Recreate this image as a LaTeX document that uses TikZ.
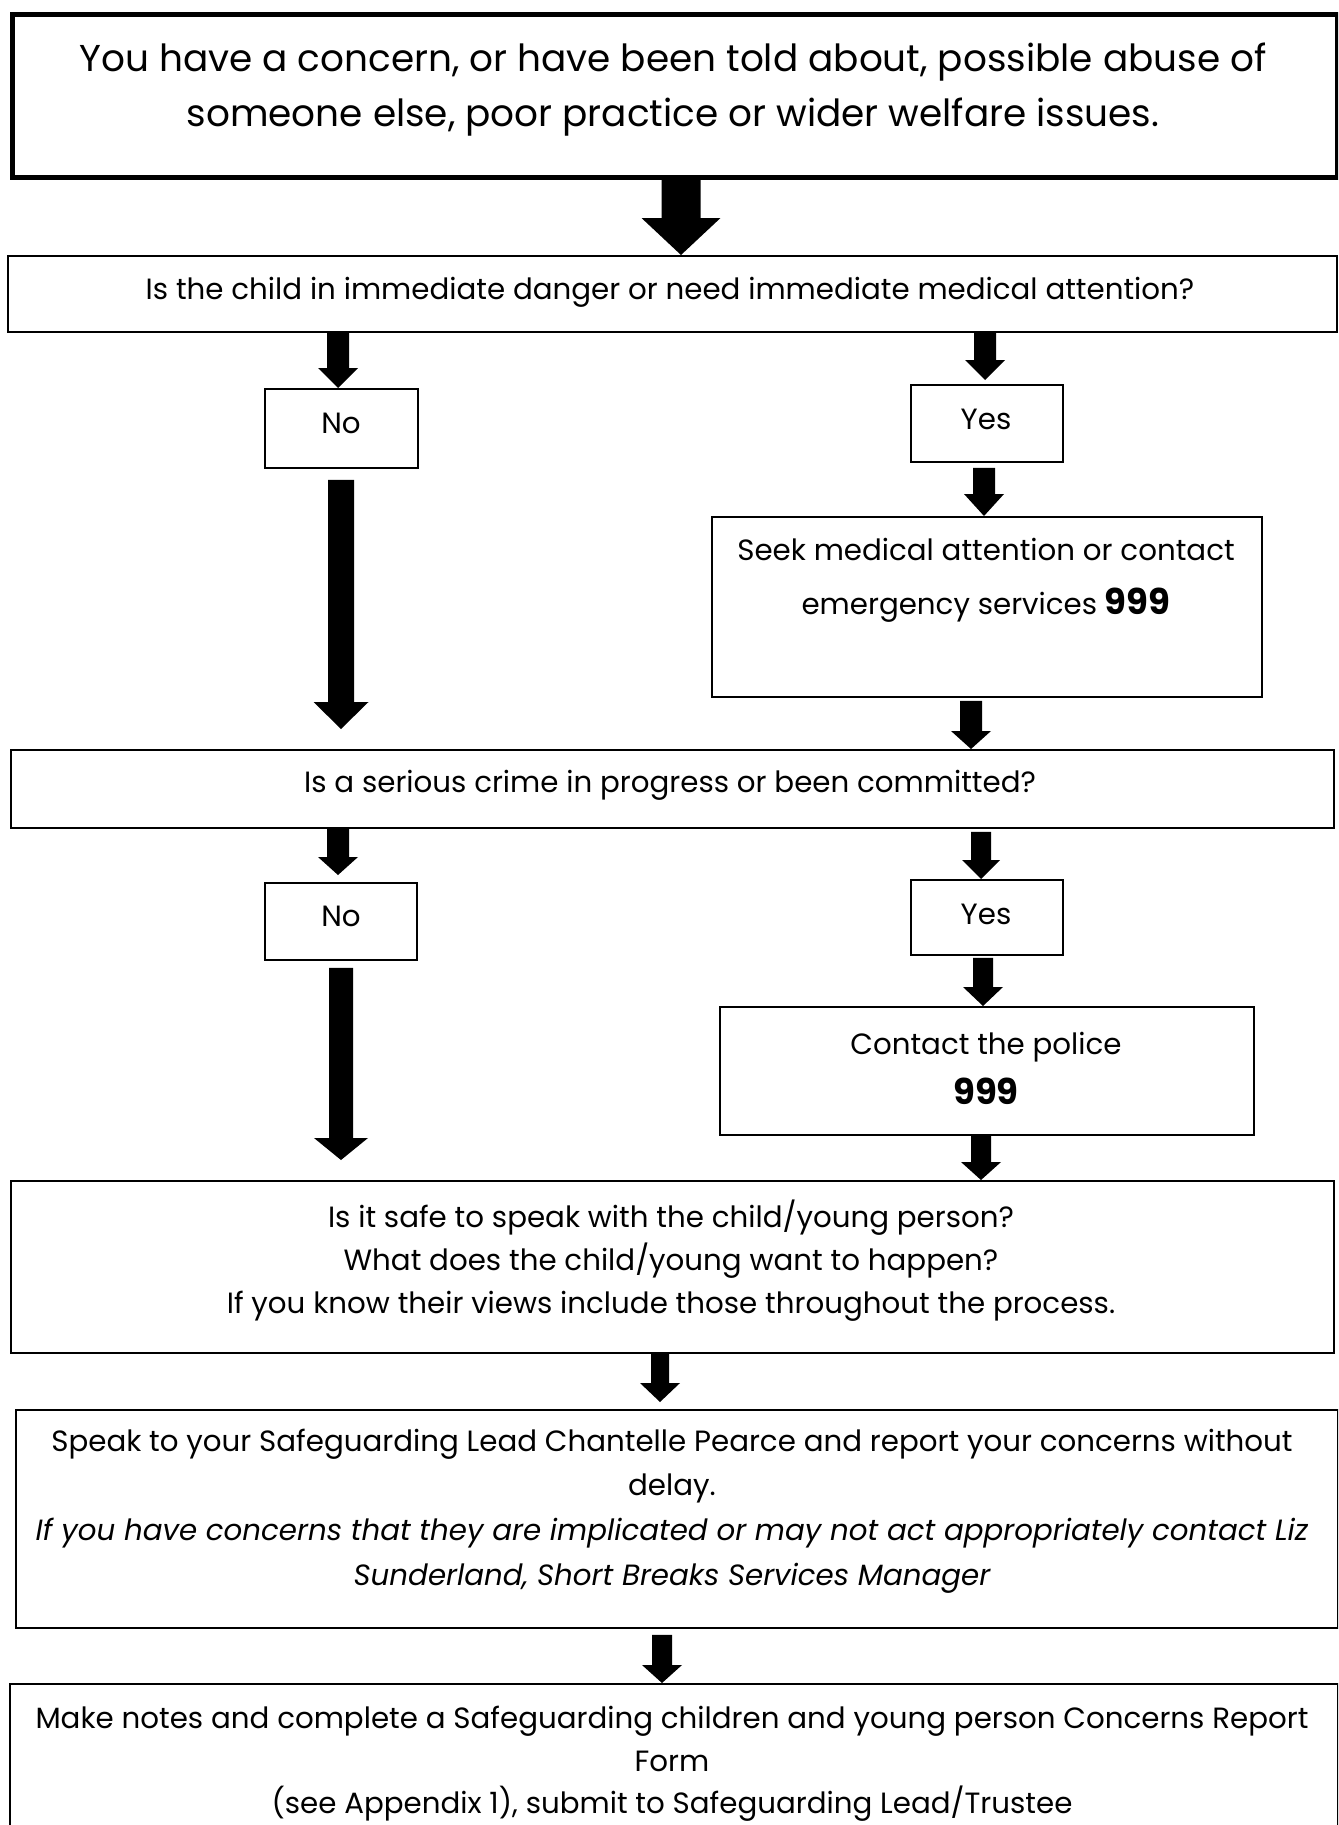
\documentclass[tikz,border=0pt]{standalone}
\usepackage{fontspec}
\setmainfont{Poppins}
\usetikzlibrary{calc}
\newcommand\blockarrow[5]{% #1 start, #2 tip, #3 half shaft, #4 half head, #5 head length
  \fill let \p1=#1, \p2=#2 in
    (\x1-#3,\y1) -- (\x1+#3,\y1) -- (\x1+#3,\y2+#5) -- (\x1+#4,\y2+#5) --
    (\x1,\y2) -- (\x1-#4,\y2+#5) -- (\x1-#3,\y2+#5) -- cycle;}
\newcommand\nnn{{\fontsize{35.5}{35.5}\selectfont\bfseries 999}}
\begin{document}
\begin{tikzpicture}[x=1pt,y=-1pt,
  box/.style={draw, line width=1.8pt, rectangle, inner sep=0pt, anchor=north west},
  bigbox/.style={draw, line width=5pt, rectangle, inner sep=0pt, anchor=north west},
  txt/.style={align=center, inner sep=0pt, font=\fontsize{29.3}{42}\selectfont},
]
\clip (0,0) rectangle (1338,1825);
\fill[white] (0,0) rectangle (1338,1825);

% boxes
\node[bigbox, minimum width=1325pt, minimum height=163pt] (top) at (10,12) {};
\node[box, minimum width=1329pt, minimum height=76pt] (q1) at (7,255) {};
\node[box, minimum width=153pt, minimum height=79pt] (no1) at (264,388) {};
\node[box, minimum width=152pt, minimum height=77pt] (yes1) at (910,384) {};
\node[box, minimum width=550pt, minimum height=180pt] (seek) at (711,516) {};
\node[box, minimum width=1323pt, minimum height=78pt] (crime) at (10,749) {};
\node[box, minimum width=152pt, minimum height=77pt] (no2) at (264,882) {};
\node[box, minimum width=152pt, minimum height=75pt] (yes2) at (910,879) {};
\node[box, minimum width=534pt, minimum height=128pt] (police) at (719,1006) {};
\node[box, minimum width=1323pt, minimum height=172pt] (safe) at (10,1180) {};
\node[box, minimum width=1322pt, minimum height=218pt] (speak) at (15,1409) {};
\node[box, minimum width=1328pt, minimum height=300pt] (make) at (9,1683) {};

% texts
\node[txt, font=\fontsize{37.4}{55}\selectfont] (topt) at (673,90)
  {You have a concern, or have been told about, possible abuse of\\
   someone else, poor practice or wider welfare issues.};
\node[txt] (q1t) at (670,292)
  {Is the child in immediate danger or need immediate medical attention?};
\node[txt] (no1t) at (341,423) {No};
\node[txt] (yes1t) at (986,419) {Yes};
\node[txt, font=\fontsize{29.3}{54}\selectfont] (seekt) at (986,580)
  {Seek medical attention or contact\\
   emergency services \nnn};
\node[txt] (crimet) at (670,785)
  {Is a serious crime in progress or been committed?};
\node[txt] (no2t) at (341,916) {No};
\node[txt] (yes2t) at (986,914) {Yes};
\node[txt, font=\fontsize{29.3}{50}\selectfont] (policet) at (986,1068)
  {Contact the police\\ \nnn};
\node[txt, font=\fontsize{29.3}{43}\selectfont] (safet) at (671,1261)
  {Is it safe to speak with the child/young person?\\
   What does the child/young want to happen?\\
   If you know their views include those throughout the process.};
\node[txt, font=\fontsize{29.3}{44.7}\selectfont] (speakt) at (672,1511)
  {Speak to your Safeguarding Lead Chantelle Pearce and report your concerns without\\
   delay.\\
   \itshape If you have concerns that they are implicated or may not act appropriately contact Liz\\
   \itshape Sunderland, Short Breaks Services Manager};
\node[txt, font=\fontsize{29.3}{42.5}\selectfont] (maket) at (672,1764)
  {Make notes and complete a Safeguarding children and young person Concerns Report\\
   Form\\
   (see Appendix 1), submit to Safeguarding Lead/Trustee};

% arrows
\blockarrow{([xshift=6pt]top.south)}{([xshift=6pt]top.south |- q1.north)}{19.5pt}{39.5pt}{37pt}
\blockarrow{(q1.south -| 338,0)}{(no1.north -| 338,0)}{11pt}{20pt}{20pt}
\blockarrow{(q1.south -| 985,0)}{([yshift=4pt]yes1.north -| 985,0)}{11pt}{20pt}{20pt}
\blockarrow{([yshift=-11pt]no1.south -| 341,0)}{([yshift=20pt]crime.north -| 341,0)}{13pt}{27.5pt}{27pt}
\blockarrow{([yshift=-5pt]yes1.south -| 984,0)}{(seek.north -| 984,0)}{11pt}{20pt}{22pt}
\blockarrow{([yshift=-3pt]seek.south -| 971,0)}{(crime.north -| 971,0)}{11pt}{20pt}{18pt}
\blockarrow{(crime.south -| 338,0)}{([yshift=7pt]no2.north -| 338,0)}{11pt}{20pt}{18pt}
\blockarrow{([yshift=-3pt]crime.south -| 981,0)}{(yes2.north -| 981,0)}{10pt}{19pt}{19pt}
\blockarrow{([yshift=-7pt]no2.south -| 341,0)}{([yshift=20pt]safe.north -| 341,0)}{12pt}{27pt}{22pt}
\blockarrow{([yshift=-2pt]yes2.south -| 983,0)}{(police.north -| 983,0)}{10pt}{20pt}{19pt}
\blockarrow{(police.south -| 981,0)}{(safe.north -| 981,0)}{10pt}{20pt}{18pt}
\blockarrow{(safe.south -| 660,0)}{([yshift=7pt]speak.north -| 660,0)}{9pt}{20pt}{19pt}
\blockarrow{([yshift=-6pt]speak.south -| 662,0)}{(make.north -| 662,0)}{10pt}{20pt}{18pt}
\end{tikzpicture}
\end{document}
